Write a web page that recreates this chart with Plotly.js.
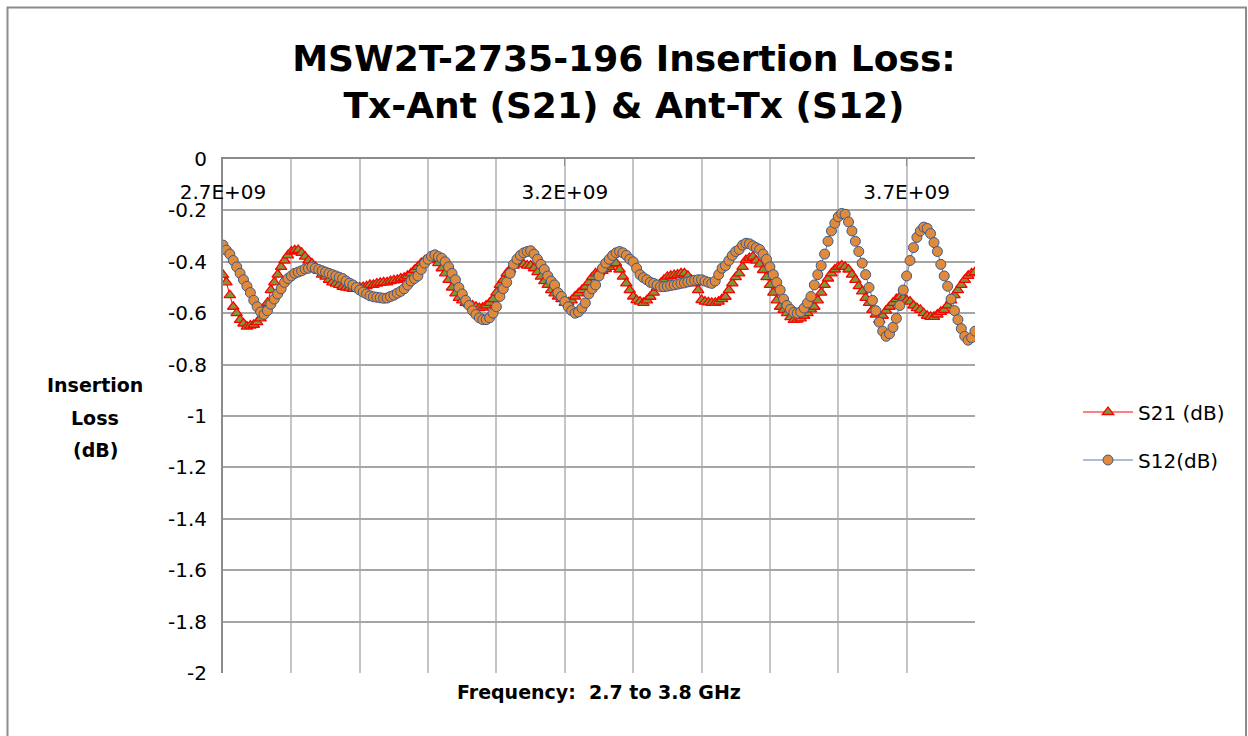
<!DOCTYPE html>
<html>
<head>
<meta charset="utf-8">
<script src="https://cdn.plot.ly/plotly-3.0.1.min.js"></script>
<style>html,body{margin:0;padding:0;background:#fff;}#chart{width:1248px;height:736px;}</style>
</head>
<body>
<div id="chart"></div>
<script>
// Frequency sweep points (MHz)
const freqMHz = [
2700,2705,2710,2715,2720,2725,2730,2735,2740,2745,
2750,2755,2760,2765,2770,2775,2780,2785,2790,2795,
2800,2805,2810,2815,2820,2825,2830,2835,2840,2845,
2850,2855,2860,2865,2870,2875,2880,2885,2890,2895,
2900,2905,2910,2915,2920,2925,2930,2935,2940,2945,
2950,2955,2960,2965,2970,2975,2980,2985,2990,2995,
3000,3005,3010,3015,3020,3025,3030,3035,3040,3045,
3050,3055,3060,3065,3070,3075,3080,3085,3090,3095,
3100,3105,3110,3115,3120,3125,3130,3135,3140,3145,
3150,3155,3160,3165,3170,3175,3180,3185,3190,3195,
3200,3205,3210,3215,3220,3225,3230,3235,3240,3245,
3250,3255,3260,3265,3270,3275,3280,3285,3290,3295,
3300,3305,3310,3315,3320,3325,3330,3335,3340,3345,
3350,3355,3360,3365,3370,3375,3380,3385,3390,3395,
3400,3405,3410,3415,3420,3425,3430,3435,3440,3445,
3450,3455,3460,3465,3470,3475,3480,3485,3490,3495,
3500,3505,3510,3515,3520,3525,3530,3535,3540,3545,
3550,3555,3560,3565,3570,3575,3580,3585,3590,3595,
3600,3605,3610,3615,3620,3625,3630,3635,3640,3645,
3650,3655,3660,3665,3670,3675,3680,3685,3690,3695,
3700,3705,3710,3715,3720,3725,3730,3735,3740,3745,
3750,3755,3760,3765,3770,3775,3780,3785,3790,3795,
3800];

// S21 (dB)
const s21 = [
-0.451,-0.48,-0.53,-0.575,-0.6,-0.626,-0.64,-0.652,-0.648,-0.645,
-0.635,-0.62,-0.59,-0.56,-0.51,-0.48,-0.45,-0.42,-0.395,-0.375,
-0.36,-0.355,-0.354,-0.365,-0.38,-0.395,-0.406,-0.42,-0.435,-0.45,
-0.458,-0.47,-0.48,-0.485,-0.49,-0.497,-0.5,-0.502,-0.505,-0.505,
-0.5,-0.498,-0.495,-0.49,-0.49,-0.485,-0.482,-0.48,-0.48,-0.475,
-0.472,-0.47,-0.465,-0.462,-0.455,-0.445,-0.432,-0.42,-0.405,-0.395,
-0.393,-0.39,-0.39,-0.405,-0.425,-0.445,-0.47,-0.5,-0.523,-0.54,
-0.55,-0.56,-0.565,-0.57,-0.575,-0.58,-0.578,-0.57,-0.56,-0.545,
-0.52,-0.49,-0.47,-0.445,-0.43,-0.415,-0.406,-0.405,-0.41,-0.415,
-0.415,-0.425,-0.44,-0.458,-0.475,-0.49,-0.51,-0.523,-0.535,-0.545,
-0.56,-0.558,-0.55,-0.535,-0.523,-0.51,-0.497,-0.48,-0.46,-0.445,
-0.44,-0.435,-0.428,-0.42,-0.41,-0.405,-0.43,-0.458,-0.484,-0.51,
-0.535,-0.549,-0.555,-0.56,-0.55,-0.536,-0.52,-0.5,-0.484,-0.47,
-0.458,-0.455,-0.452,-0.45,-0.445,-0.445,-0.455,-0.47,-0.484,-0.51,
-0.549,-0.555,-0.558,-0.56,-0.56,-0.555,-0.545,-0.536,-0.51,-0.484,
-0.46,-0.445,-0.42,-0.393,-0.385,-0.38,-0.395,-0.41,-0.432,-0.46,
-0.49,-0.52,-0.55,-0.575,-0.587,-0.6,-0.615,-0.626,-0.625,-0.62,
-0.61,-0.6,-0.585,-0.575,-0.55,-0.52,-0.49,-0.465,-0.445,-0.43,
-0.42,-0.415,-0.42,-0.43,-0.45,-0.47,-0.495,-0.515,-0.54,-0.56,
-0.587,-0.605,-0.626,-0.61,-0.59,-0.575,-0.56,-0.545,-0.536,-0.54,
-0.55,-0.555,-0.57,-0.58,-0.587,-0.6,-0.61,-0.614,-0.614,-0.605,
-0.595,-0.587,-0.57,-0.55,-0.53,-0.51,-0.49,-0.47,-0.455,-0.445,
-0.44];

// S12 (dB)
const s12 = [
-0.335,-0.355,-0.37,-0.395,-0.42,-0.445,-0.47,-0.495,-0.52,-0.55,
-0.575,-0.595,-0.605,-0.59,-0.565,-0.545,-0.525,-0.505,-0.48,-0.465,
-0.455,-0.445,-0.44,-0.435,-0.428,-0.425,-0.42,-0.425,-0.43,-0.435,
-0.44,-0.445,-0.45,-0.455,-0.46,-0.465,-0.475,-0.483,-0.49,-0.5,
-0.51,-0.518,-0.525,-0.532,-0.536,-0.538,-0.54,-0.542,-0.541,-0.535,
-0.53,-0.522,-0.515,-0.505,-0.49,-0.475,-0.465,-0.455,-0.43,-0.405,
-0.39,-0.378,-0.373,-0.38,-0.386,-0.4,-0.42,-0.445,-0.47,-0.5,
-0.525,-0.55,-0.57,-0.59,-0.605,-0.618,-0.625,-0.625,-0.618,-0.6,
-0.575,-0.535,-0.505,-0.48,-0.445,-0.41,-0.39,-0.375,-0.365,-0.36,
-0.357,-0.37,-0.39,-0.41,-0.43,-0.455,-0.475,-0.49,-0.52,-0.535,
-0.555,-0.575,-0.59,-0.6,-0.595,-0.58,-0.56,-0.525,-0.505,-0.49,
-0.455,-0.425,-0.405,-0.39,-0.375,-0.365,-0.36,-0.365,-0.375,-0.39,
-0.4,-0.425,-0.45,-0.462,-0.47,-0.48,-0.484,-0.49,-0.497,-0.497,
-0.495,-0.492,-0.49,-0.487,-0.484,-0.482,-0.478,-0.475,-0.472,-0.47,
-0.47,-0.475,-0.48,-0.484,-0.475,-0.45,-0.425,-0.415,-0.395,-0.375,
-0.36,-0.352,-0.335,-0.328,-0.33,-0.338,-0.345,-0.352,-0.37,-0.39,
-0.42,-0.45,-0.48,-0.51,-0.545,-0.57,-0.585,-0.597,-0.6,-0.595,
-0.58,-0.56,-0.535,-0.49,-0.45,-0.415,-0.37,-0.32,-0.28,-0.25,
-0.225,-0.212,-0.215,-0.245,-0.28,-0.32,-0.36,-0.405,-0.45,-0.5,
-0.55,-0.59,-0.635,-0.67,-0.69,-0.68,-0.655,-0.62,-0.57,-0.51,
-0.455,-0.395,-0.345,-0.305,-0.28,-0.265,-0.27,-0.29,-0.325,-0.36,
-0.41,-0.455,-0.495,-0.545,-0.59,-0.625,-0.66,-0.69,-0.705,-0.695,
-0.67];

const seriesNames = ["S21 (dB)", "S12(dB)"];
const xTickVals = [2.7, 3.2, 3.7];
const xTickText = ["2.7E+09", "3.2E+09", "3.7E+09"];
const yTickVals = [0, -0.2, -0.4, -0.6, -0.8, -1, -1.2, -1.4, -1.6, -1.8, -2];
const yTickText = ["0", "-0.2", "-0.4", "-0.6", "-0.8", "-1", "-1.2", "-1.4", "-1.6", "-1.8", "-2"];
const titleText = "MSW2T-2735-196 Insertion Loss:<br>Tx-Ant (S21) & Ant-Tx (S12)";
const xTitleText = "Frequency:  2.7 to 3.8 GHz";
const yTitleLines = ["Insertion", "Loss", "(dB)"];

const freqGHz = freqMHz.map(f => f / 1000);
const FONT = "DejaVu Sans";

const traces = [
  {
    x: freqGHz, y: s21, type: "scatter", mode: "lines+markers", name: seriesNames[0],
    legendgroup: "a",
    line: {color: "#ff0000", width: 1},
    marker: {symbol: "triangle-up", size: 10, color: "#7a9a3a", line: {color: "#ff0000", width: 1.3}}
  },
  {
    x: freqGHz, y: s12, type: "scatter", mode: "lines+markers", name: seriesNames[1],
    legendgroup: "b",
    line: {color: "#5a7cb0", width: 1},
    marker: {symbol: "circle", size: 10, color: "#e08a3c", line: {color: "#3a5a8c", width: 1}}
  }
];

const L = 223, R = 975, T = 159, B = 673;
const px2x = p => (p - L) / (R - L);
const py2y = p => (B - p) / (B - T);

const annotations = [
  {text: xTitleText, xref: "paper", yref: "paper", x: 0.5, y: py2y(692), xanchor: "center", yanchor: "middle",
   showarrow: false, font: {family: FONT, size: 19, color: "#000", weight: "bold"}}
];
const yTitlePos = [385, 418, 450];
yTitleLines.forEach((t, i) => annotations.push({
  text: t, xref: "paper", yref: "paper", x: px2x(95), y: py2y(yTitlePos[i]), xanchor: "center", yanchor: "middle",
  showarrow: false, font: {family: FONT, size: 19, color: "#000", weight: "bold"}
}));

const layout = {
  width: 1248, height: 736,
  margin: {l: L, r: 1248 - R, t: T, b: 736 - B, pad: 0},
  paper_bgcolor: "#fff", plot_bgcolor: "#fff",
  showlegend: true,
  title: {
    text: titleText, xref: "container", yref: "container", x: 0.5, xanchor: "center",
    y: 1 - 71 / 736, yanchor: "middle",
    font: {family: FONT, size: 36, color: "#000", weight: "bold"}
  },
  xaxis: {
    range: [2.7, 3.8], side: "top",
    tickmode: "array", tickvals: xTickVals, ticktext: xTickText,
    ticks: "inside", ticklen: 7, tickcolor: "#8c8c8c", tickwidth: 1,
    ticklabelposition: "inside", ticklabeloverflow: "allow", ticklabelstandoff: 20,
    tickfont: {family: FONT, size: 20, color: "#000"},
    showgrid: true, gridcolor: "#c4c4c4", gridwidth: 2,
    minor: {dtick: 0.1, tick0: 2.7, showgrid: true, gridcolor: "#c4c4c4", gridwidth: 2, ticks: ""},
    showline: true, linecolor: "#8c8c8c", linewidth: 2,
    zeroline: false, fixedrange: true
  },
  yaxis: {
    range: [-2, 0],
    tickmode: "array", tickvals: yTickVals, ticktext: yTickText,
    ticks: "", ticklabelstandoff: 10,
    tickfont: {family: FONT, size: 20, color: "#000"},
    showgrid: true, gridcolor: "#a6a6a6", gridwidth: 2,
    showline: true, linecolor: "#8c8c8c", linewidth: 2,
    zeroline: false, fixedrange: true
  },
  legend: {
    x: px2x(1078), xanchor: "left", y: py2y(436), yanchor: "middle",
    font: {family: FONT, size: 20, color: "#000"},
    bgcolor: "rgba(0,0,0,0)", borderwidth: 0, tracegroupgap: 19, itemwidth: 50
  },
  annotations: annotations,
  shapes: [
    {type: "rect", xref: "paper", yref: "paper", x0: px2x(7.5), x1: px2x(1246), y0: py2y(760), y1: py2y(7.5),
     line: {color: "#8c8c8c", width: 2}, fillcolor: "rgba(0,0,0,0)", layer: "below"}
  ]
};

Plotly.newPlot("chart", traces, layout, {displayModeBar: false, staticPlot: true});
</script>
</body>
</html>
